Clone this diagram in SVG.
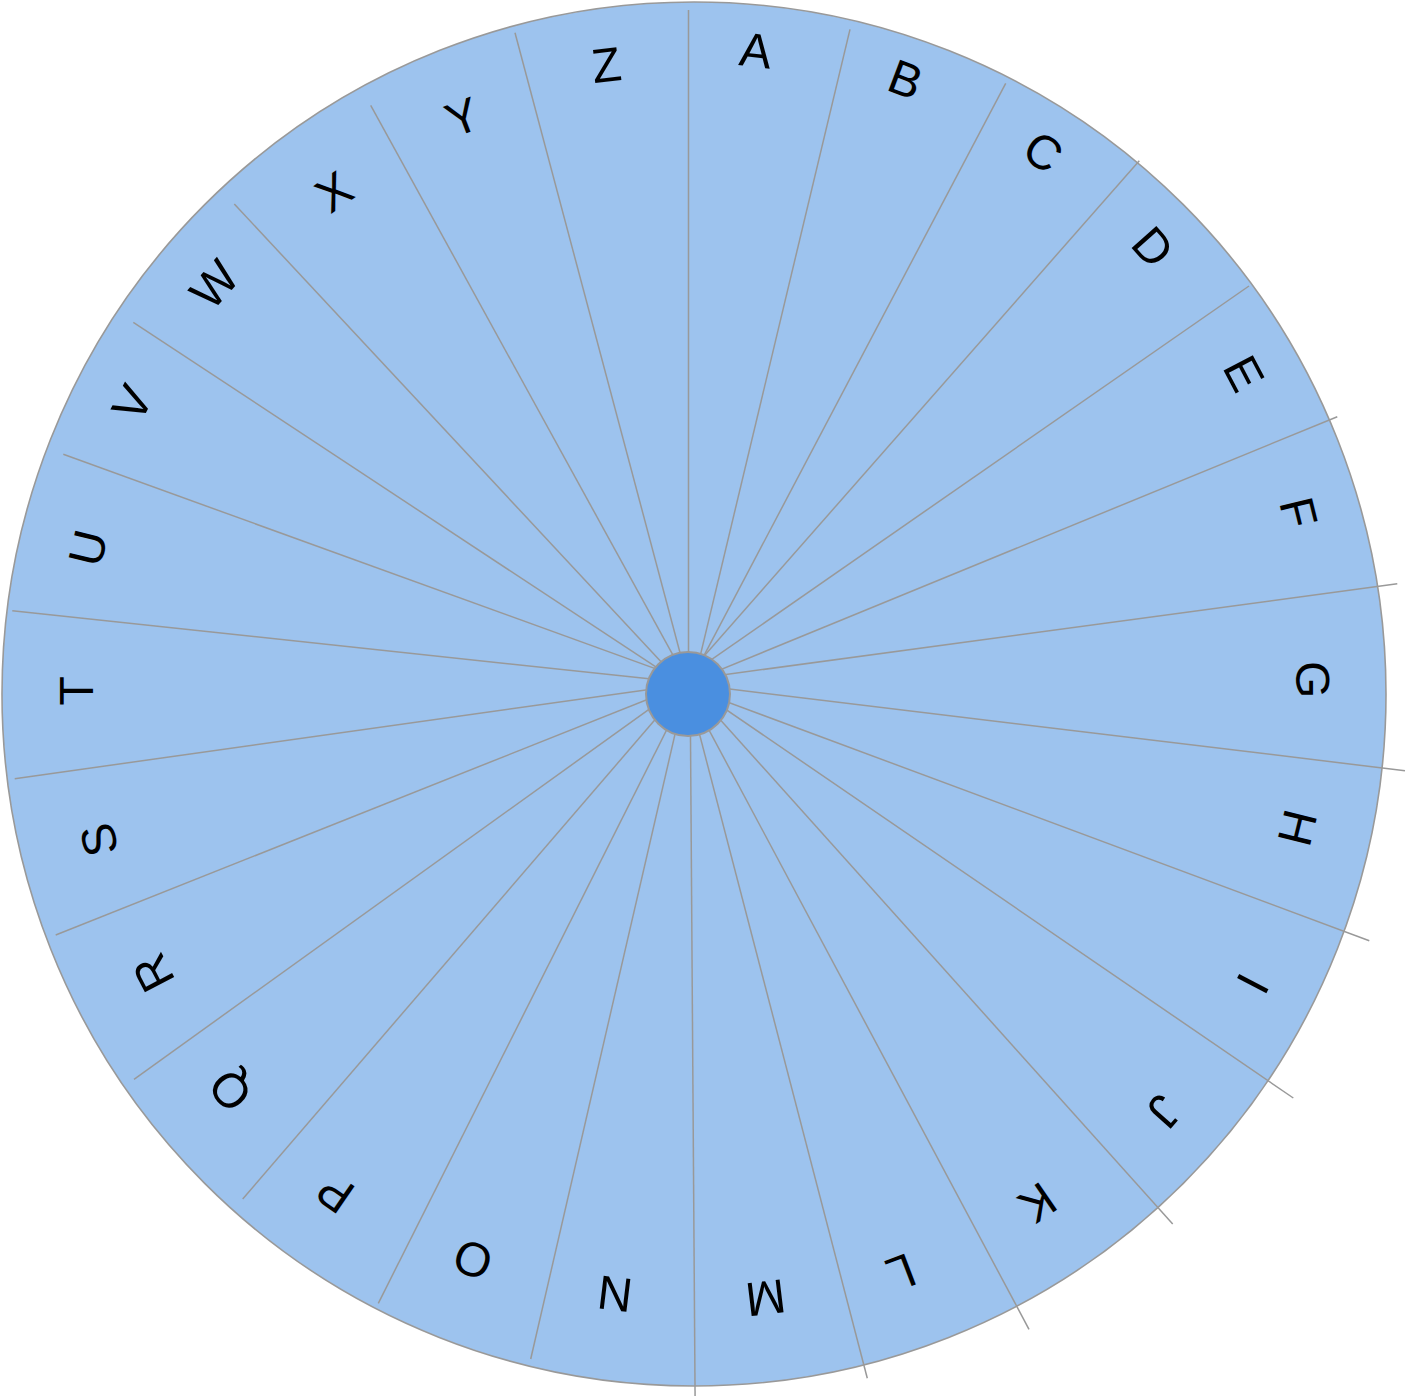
<svg xmlns="http://www.w3.org/2000/svg" width="1406" height="1396" viewBox="0 0 1406 1396">
<style>
.rim{fill:#9DC3EE;stroke:#999;stroke-width:1.6}
.hub{fill:#4A8FE0;stroke:#999;stroke-width:2}
.spoke{stroke:#999;stroke-width:1.5;fill:none}
.lbl{font-family:"Liberation Sans",Arial,Helvetica,sans-serif;font-size:48px;fill:#000;text-anchor:middle}
</style>
<rect width="1406" height="1396" fill="#fff"/>
<g id="wheel"><circle class="rim" cx="694" cy="694" r="692"/></g>
<g id="connectors">
<line class="spoke" x1="688.5" y1="694" x2="688.5" y2="10"/>
<line class="spoke" x1="690.9" y1="694.8" x2="850" y2="29.3"/>
<line class="spoke" x1="684.6" y1="692.3" x2="1005.7" y2="83.3"/>
<line class="spoke" x1="678.2" y1="685.6" x2="1139.3" y2="160.7"/>
<line class="spoke" x1="679.4" y1="681.9" x2="1249" y2="286"/>
<line class="spoke" x1="684.1" y1="684.6" x2="1337.3" y2="416.7"/>
<line class="spoke" x1="686" y1="679.9" x2="1397.3" y2="583.7"/>
<line class="spoke" x1="689.1" y1="684.1" x2="1405" y2="770.7"/>
<line class="spoke" x1="690.1" y1="688.1" x2="1369.3" y2="940.7"/>
<line class="spoke" x1="692.9" y1="686.8" x2="1293.3" y2="1098"/>
<line class="spoke" x1="693.1" y1="689.4" x2="1172.7" y2="1224"/>
<line class="spoke" x1="689.4" y1="693.3" x2="1029" y2="1329.3"/>
<line class="spoke" x1="689" y1="693.8" x2="867.3" y2="1378.3"/>
<line class="spoke" x1="690.2" y1="694" x2="695.1" y2="1400"/>
<line class="spoke" x1="684.5" y1="693.1" x2="530.7" y2="1359"/>
<line class="spoke" x1="685.4" y1="692.7" x2="378.3" y2="1303.3"/>
<line class="spoke" x1="681.8" y1="688.6" x2="242.7" y2="1199"/>
<line class="spoke" x1="682" y1="685.6" x2="134" y2="1079.3"/>
<line class="spoke" x1="684.4" y1="684.8" x2="55.7" y2="935"/>
<line class="spoke" x1="686.7" y1="684.2" x2="14.7" y2="778.7"/>
<line class="spoke" x1="689.2" y1="683.1" x2="12.3" y2="610.7"/>
<line class="spoke" x1="692.5" y1="682.1" x2="63.3" y2="454.3"/>
<line class="spoke" x1="690.7" y1="689.9" x2="133.3" y2="322.3"/>
<line class="spoke" x1="689.7" y1="692.4" x2="234.3" y2="204"/>
<line class="spoke" x1="692.9" y1="691.4" x2="370.7" y2="105.3"/>
<line class="spoke" x1="690.8" y1="693.3" x2="515" y2="32.7"/>
</g>
<g id="hub"><circle class="hub" cx="688" cy="694" r="42"/></g>
<g id="seg-A" transform="translate(756 50) rotate(6.92)"><text class="lbl" y="17">A</text></g>
<g id="seg-B" transform="translate(905.8 79) rotate(20.77)"><text class="lbl" y="17">B</text></g>
<g id="seg-C" transform="translate(1043.3 151.7) rotate(34.6)"><text class="lbl" y="17">C</text></g>
<g id="seg-D" transform="translate(1153.3 246.7) rotate(48.5)"><text class="lbl" y="17">D</text></g>
<g id="seg-E" transform="translate(1244.2 373.3) rotate(62.3)"><text class="lbl" y="17">E</text></g>
<g id="seg-F" transform="translate(1299 512.5) rotate(76.2)"><text class="lbl" y="17">F</text></g>
<g id="seg-G" transform="translate(1313 679.7) rotate(90)"><text class="lbl" y="17">G</text></g>
<g id="seg-H" transform="translate(1298 828) rotate(103.8)"><text class="lbl" y="17">H</text></g>
<g id="seg-I" transform="translate(1253.3 983.8) rotate(117.7)"><text class="lbl" y="17">I</text></g>
<g id="seg-J" transform="translate(1164.2 1111.7) rotate(131.5)"><text class="lbl" y="17">J</text></g>
<g id="seg-K" transform="translate(1038 1203.3) rotate(145.4)"><text class="lbl" y="17">K</text></g>
<g id="seg-L" transform="translate(901.2 1273) rotate(159.2)"><text class="lbl" y="17">L</text></g>
<g id="seg-M" transform="translate(765.8 1298.3) rotate(173.1)"><text class="lbl" y="17">M</text></g>
<g id="seg-N" transform="translate(615 1294.2) rotate(186.9)"><text class="lbl" y="17">N</text></g>
<g id="seg-O" transform="translate(472.8 1260) rotate(200.8)"><text class="lbl" y="17">O</text></g>
<g id="seg-P" transform="translate(335 1193.3) rotate(214.6)"><text class="lbl" y="17">P</text></g>
<g id="seg-Q" transform="translate(229.8 1090.7) rotate(228.5)"><text class="lbl" y="17">Q</text></g>
<g id="seg-R" transform="translate(153 973) rotate(242.3)"><text class="lbl" y="17">R</text></g>
<g id="seg-S" transform="translate(98.7 840) rotate(256.2)"><text class="lbl" y="17">S</text></g>
<g id="seg-T" transform="translate(76.3 690.8) rotate(270)"><text class="lbl" y="17">T</text></g>
<g id="seg-U" transform="translate(87.5 547.8) rotate(283.8)"><text class="lbl" y="17">U</text></g>
<g id="seg-V" transform="translate(132 403) rotate(297.7)"><text class="lbl" y="17">V</text></g>
<g id="seg-W" transform="translate(214 284.2) rotate(311.5)"><text class="lbl" y="17">W</text></g>
<g id="seg-X" transform="translate(333.8 191.3) rotate(325.4)"><text class="lbl" y="17">X</text></g>
<g id="seg-Y" transform="translate(462.3 116.7) rotate(339.2)"><text class="lbl" y="17">Y</text></g>
<g id="seg-Z" transform="translate(606.3 64.5) rotate(353.1)"><text class="lbl" y="17">Z</text></g>
</svg>
